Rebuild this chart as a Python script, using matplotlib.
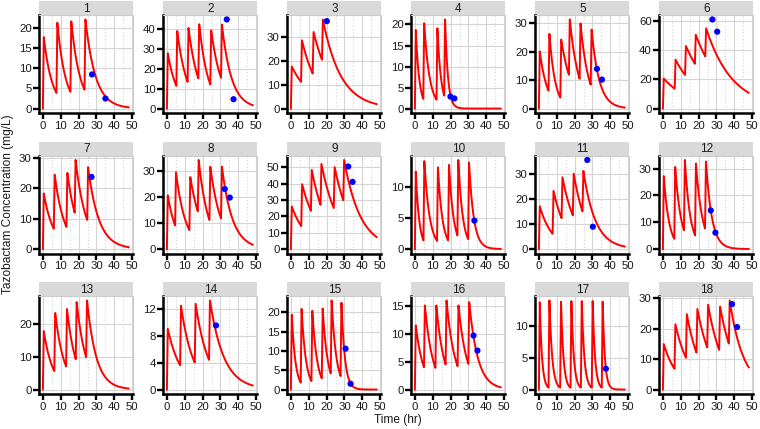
import numpy as np
import matplotlib
matplotlib.use("Agg")
import matplotlib.pyplot as plt

plt.rcParams['font.family'] = ['Liberation Sans', 'DejaVu Sans']

# ---------------- data ----------------
panel_ids = list(range(1, 19))

dose_times = [
    [0, 7.6, 15.4, 23.3],
    [0, 5.3, 11.6, 17.6, 24.3, 30.3],
    [0, 5.7, 12.2, 17.4],
    [0, 4.7, 12.1, 16.4],
    [0, 5.4, 12.0, 16.8, 22.8, 29.0],
    [0, 6.6, 12.4, 17.9, 23.7],
    [0, 6.1, 13.2, 17.8, 24.8],
    [0, 4.6, 12.6, 17.3, 23.8, 30.3],
    [0, 5.8, 11.2, 16.6, 24.0, 29.3],
    [0, 4.8, 12.4, 18.6, 23.8, 29.8],
    [0, 7.7, 12.7, 19.0, 24.4],
    [0, 6.4, 11.8, 18.0, 23.6],
    [0, 6.4, 13.0, 18.4, 24.2],
    [0, 7.4, 15.6, 23.6],
    [0, 5.5, 11.5, 17.3, 22.3, 27.8],
    [0, 5.1, 11.5, 17.2, 23.9, 29.9],
    [0, 5.4, 11.9, 17.7, 23.5, 29.6, 35.2],
    [0, 6.5, 12.9, 18.8, 24.8, 31.5, 36.9],
]

peak_conc = [
    [17.8, 21.4, 21.7, 22.2],
    [27.8, 39.0, 40.5, 42.4, 39.3, 42.2],
    [17.5, 28.4, 31.9, 37.1],
    [18.7, 20.3, 19.1, 21.2],
    [20.1, 26.3, 24.3, 31.4, 30.0, 27.8],
    [20.6, 33.5, 42.9, 50.6, 55.0],
    [18.3, 24.5, 25.1, 29.4, 27.0],
    [20.7, 29.5, 27.7, 34.3, 31.7, 31.7],
    [26.0, 39.6, 48.3, 52.0, 50.0, 54.4],
    [12.5, 14.2, 13.2, 13.6, 14.4, 14.0],
    [17.0, 23.2, 28.6, 30.0, 31.1],
    [27.2, 30.6, 33.2, 31.9, 32.6],
    [17.7, 23.2, 24.4, 26.5, 27.0],
    [9.0, 12.4, 12.7, 13.2],
    [19.4, 20.9, 20.4, 21.0, 23.1, 22.5],
    [11.5, 15.1, 15.1, 16.0, 15.1, 15.7],
    [13.8, 14.1, 13.9, 14.0, 14.0, 14.0, 13.9],
    [14.9, 21.4, 24.7, 26.4, 27.8, 27.2, 29.2],
]

trough_conc = [
    [3.9, 4.2, 4.7],
    [11.4, 13.4, 15.2, 12.1, 15.5],
    [11.1, 14.6, 20.3],
    [2.3, 2.1, 3.1],
    [6.3, 3.9, 11.9, 10.5, 8.4],
    [13.6, 23.0, 30.7, 35.8],
    [6.7, 7.3, 12.0, 9.6],
    [9.1, 7.3, 14.5, 11.2, 11.8],
    [14.0, 23.3, 27.0, 25.0, 29.8],
    [1.4, 1.3, 1.4, 2.2, 1.6],
    [6.1, 12.3, 13.4, 15.0],
    [3.8, 7.0, 5.1, 7.7],
    [5.6, 7.0, 9.2, 9.8],
    [3.6, 4.0, 4.4],
    [1.8, 2.2, 2.9, 4.2, 3.5],
    [4.0, 3.9, 4.5, 4.2, 4.6],
    [0.3, 0.3, 0.3, 0.3, 0.3, 0.3],
    [6.8, 10.4, 12.1, 13.8, 13.0, 15.1],
]

# one point read on the final decline after the last dose (time, conc)
tail_time = [48, 48, 48, 20.0, 48, 48, 48, 48, 48, 33.3, 48, 29.4, 48, 48, 33.4, 48, 37.5, 48]
tail_conc = [0.3, 1.7, 1.85, 3.0, 0.35, 10.8, 0.6, 1.7, 7.3, 4.5, 1.0, 6.5, 0.3, 0.6, 1.6, 0.4, 3.3, 7.3]

obs_time = [
    [27.5, 35.0], [33.5, 37.3], [20.1], [19.9, 22.1], [32.5, 35.3], [27.7, 30.4],
    [27.2], [32.4, 35.2], [32.1, 34.5], [33.3], [27.1, 30.2], [26.8, 29.4],
    [], [27.5], [30.6, 33.4], [32.8, 35.0], [37.5], [38.7, 41.5],
]
obs_conc = [
    [8.5, 2.5], [44.8, 4.7], [36.4], [2.85, 2.4], [14.0, 10.2], [61.1, 52.7],
    [23.8], [23.1, 19.8], [50.4, 41.0], [4.6], [35.5, 8.9], [14.4, 6.1],
    [], [9.5], [10.6, 1.5], [9.7, 7.0], [3.3], [28.0, 20.5],
]

ytick_step = [5, 10, 10, 5, 10, 20, 10, 10, 10, 5, 10, 10, 10, 4, 5, 5, 5, 10]
ytick_max = [20, 40, 30, 20, 30, 60, 30, 30, 50, 10, 30, 30, 20, 12, 20, 15, 10, 30]
xticks = [0, 10, 20, 30, 40, 50]
xminor = [5, 15, 25, 35, 45]
t_end = 48.0
infusion = 0.5


def build_curve(doses, peaks, troughs, tt, tc):
    ts, cs = [], []
    prev = 0.0
    n = len(doses)
    for i, d in enumerate(doses):
        tp = d + infusion
        ts += [d, tp]
        cs += [prev, peaks[i]]
        if i < n - 1:
            t_next, c_next = doses[i + 1], troughs[i]
            k = np.log(peaks[i] / c_next) / (t_next - tp)
        else:
            t_next = t_end
            k = np.log(peaks[i] / tc) / (tt - tp)
            c_next = peaks[i] * np.exp(-k * (t_next - tp))
        seg_t = np.linspace(tp, t_next, 60)[1:]
        seg_c = peaks[i] * np.exp(-k * (seg_t - tp))
        ts += list(seg_t)
        cs += list(seg_c)
        prev = c_next
    return np.array(ts), np.array(cs)


# ---------------- layout ----------------
W, H = 760, 429
fig = plt.figure(figsize=(W / 100, H / 100), dpi=100)

col_left0, col_pitch, panel_w = 39.3, 124.0, 94.0
row_top0, row_pitch, strip_h, panel_h = 1.0, 140.5, 14.0, 98.0

FS = 8.2
grid_col = '#d4d4d4'
txt_col = '#1a1a1a'

for idx in range(18):
    r, c = divmod(idx, 6)
    left = col_left0 + c * col_pitch
    top = row_top0 + r * row_pitch
    # strip
    sax = fig.add_axes([left / W, 1 - (top + strip_h) / H, panel_w / W, strip_h / H])
    sax.set_facecolor('#d9d9d9')
    sax.set_xticks([]); sax.set_yticks([])
    for s in sax.spines.values():
        s.set_visible(False)
    sax.text(0.5, 0.45, str(panel_ids[idx]), ha='center', va='center', fontsize=FS + 0.3,
             color=txt_col, transform=sax.transAxes)

    ax = fig.add_axes([left / W, 1 - (top + strip_h + panel_h) / H, panel_w / W, panel_h / H])
    t, conc = build_curve(dose_times[idx], peak_conc[idx], trough_conc[idx],
                          tail_time[idx], tail_conc[idx])
    ax.plot(t, conc, color='#ff0000', lw=1.4, zorder=3, solid_joinstyle='round')
    if obs_time[idx]:
        ax.scatter(obs_time[idx], obs_conc[idx], s=20, color='#0000ff', zorder=4,
                   edgecolors='none')

    ymax = max(max(peak_conc[idx]), max(obs_conc[idx]) if obs_conc[idx] else 0)
    ax.set_ylim(-0.05 * ymax, 1.05 * ymax)
    ax.set_xlim(-2.0, 50.6)
    ax.set_yticks(np.arange(0, ytick_max[idx] + 1e-9, ytick_step[idx]))
    ax.set_xticks(xticks)
    ax.set_xticks(xminor, minor=True)
    ax.tick_params(which='major', length=4, width=1.7, labelsize=FS, pad=1.5,
                   color='black', labelcolor=txt_col)
    ax.tick_params(which='minor', length=0)
    ax.grid(which='major', color=grid_col, lw=0.8, zorder=0)
    ax.grid(which='minor', axis='x', color=grid_col, lw=0.8, ls=(0, (1, 2)), zorder=0)
    ax.set_axisbelow(True)
    for side in ('left', 'bottom'):
        ax.spines[side].set_color('black')
        ax.spines[side].set_linewidth(1.8)
    for side in ('top', 'right'):
        ax.spines[side].set_color('#cccccc')
        ax.spines[side].set_linewidth(0.8)

fig.text(398 / W, 1 - 420 / H, 'Time (hr)', ha='center', va='center', fontsize=8.6,
         color=txt_col)
fig.text(8 / W, 1 - 204 / H, 'Tazobactam Concentration (mg/L)', ha='center', va='center',
         rotation=90, fontsize=8.6, color=txt_col)

fig.savefig('out.png', dpi=100)
